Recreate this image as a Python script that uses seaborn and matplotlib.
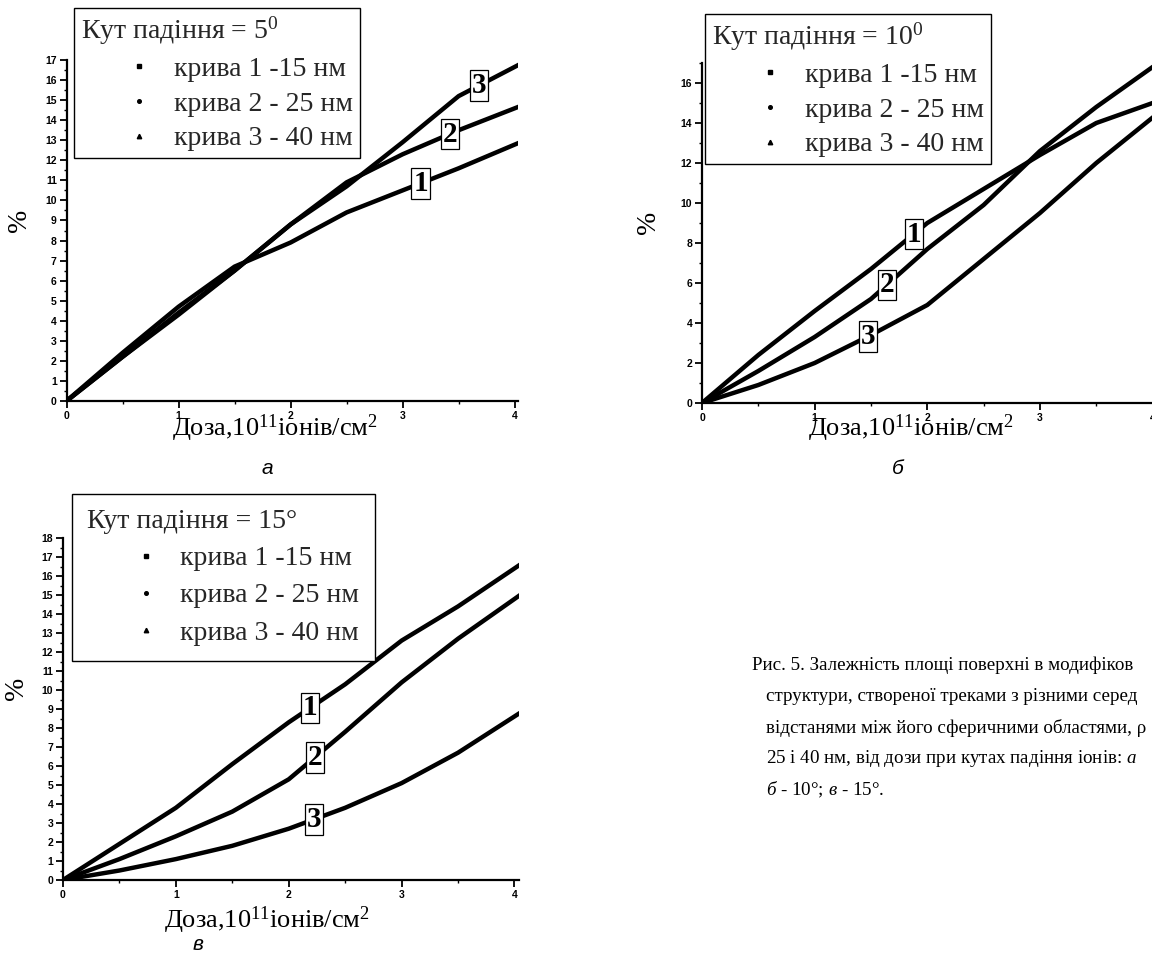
import numpy as np
import pandas as pd
import matplotlib
matplotlib.use("Agg")
import matplotlib.pyplot as plt
from matplotlib.lines import Line2D
from matplotlib.ticker import MultipleLocator
import seaborn as sns

sns.set_theme(style="ticks")
plt.rcParams["font.family"] = ["Liberation Serif", "DejaVu Serif"]
plt.rcParams["mathtext.fontset"] = "custom"
plt.rcParams["mathtext.rm"] = "Liberation Serif"
plt.rcParams["mathtext.it"] = "Liberation Serif:italic"

# dose, 10^11 ions/cm^2
dose = [0, 0.5, 1, 1.5, 2, 2.5, 3, 3.5, 4.05]

# panel а - angle 5
a_c1 = [0, 2.4, 4.7, 6.7, 7.9, 9.4, 10.5, 11.6, 12.9]
a_c2 = [0, 2.2, 4.4, 6.5, 8.8, 10.9, 12.3, 13.5, 14.7]
a_c3 = [0, 2.2, 4.3, 6.5, 8.8, 10.7, 12.9, 15.2, 16.8]

# panel б - angle 10
b_c1 = [0, 2.4, 4.6, 6.7, 9.0, 10.7, 12.4, 14.0, 15.1]
b_c2 = [0, 1.6, 3.3, 5.2, 7.7, 9.9, 12.6, 14.8, 17.0]
b_c3 = [0, 0.9, 2.0, 3.4, 4.9, 7.2, 9.5, 12.0, 14.5]

# panel в - angle 15
c_c1 = [0, 1.9, 3.8, 6.1, 8.3, 10.3, 12.6, 14.4, 16.6]
c_c2 = [0, 1.1, 2.3, 3.6, 5.3, 7.8, 10.4, 12.7, 15.0]
c_c3 = [0, 0.5, 1.1, 1.8, 2.7, 3.8, 5.1, 6.7, 8.8]

curve_ids = ["1", "2", "3"]
legend_labels = ["крива 1 -15 нм", "крива 2 - 25 нм", "крива 3 - 40 нм"]
titles = ["Кут падіння = 5$^{0}$", "Кут падіння = 10$^{0}$", "Кут падіння = 15°"]
panel_letters = ["а", "б", "в"]
x_ticks = [0, 1, 2, 3, 4]
y_ticks_a = list(range(0, 18))
y_ticks_b = list(range(0, 17, 2))
y_ticks_c = list(range(0, 19))
# x where the boxed curve numbers sit
label_x_a = [3.16, 3.42, 3.68]
label_x_b = [1.88, 1.64, 1.47]
label_x_c = [2.19, 2.23, 2.22]

caption = [
    "Рис. 5. Залежність площі поверхні в модифіков",
    "структури, створеної треками з різними серед",
    "відстанями між його сферичними областями, ρ",
    "25 і 40 нм, від дози при кутах падіння іонів: $\\mathit{а}$",
    "$\\mathit{б}$ - 10°; $\\mathit{в}$ - 15°.",
]

W, H = 1152, 958
fig = plt.figure(figsize=(W / 100, H / 100), dpi=100)


def px_axes(left, right, bottom, top):
    return fig.add_axes([left / W, 1 - bottom / H, (right - left) / W, (bottom - top) / H])


def draw_panel(ax, curves, label_x, ylim, xmax, y_ticks, ymin_step, title, leg_anchor, leg_pad,
               leg_space, xlab_pos, ylab_pos, letter, letter_pos):
    df = pd.concat([pd.DataFrame({"dose": dose, "pct": c, "curve": cid})
                    for c, cid in zip(curves, curve_ids)])
    sns.lineplot(data=df, x="dose", y="pct", hue="curve", palette=["black"] * 3,
                 linewidth=3.2, legend=False, ax=ax)
    ax.set_xlim(0, xmax)
    ax.set_ylim(0, ylim)
    ax.set_xticks(x_ticks, [str(t) for t in x_ticks], fontfamily="Liberation Sans",
                  fontweight="bold", fontsize=7.5)
    ax.set_yticks(y_ticks, [str(t) for t in y_ticks], fontfamily="Liberation Sans",
                  fontweight="bold", fontsize=7.5)
    ax.xaxis.set_minor_locator(MultipleLocator(0.5))
    ax.yaxis.set_minor_locator(MultipleLocator(ymin_step))
    sns.despine(ax=ax)
    for s in ["left", "bottom"]:
        ax.spines[s].set_color("black")
        ax.spines[s].set_linewidth(1.6)
    ax.tick_params(which="major", direction="out", length=5, width=1.3, color="black",
                   labelcolor="black", pad=2)
    ax.tick_params(which="minor", direction="out", length=2.5, width=1, color="black")

    ax.set_xlabel("Доза,10$^{11}$іонів/см$^{2}$", fontsize=19, color="black", va="center")
    ax.xaxis.set_label_coords(*xlab_pos)
    ax.set_ylabel("%", fontsize=20, color="black", va="center")
    ax.yaxis.set_label_coords(*ylab_pos)

    for c, cid, lx in zip(curves, curve_ids, label_x):
        ly = np.interp(lx, dose, c)
        ax.text(lx, ly, cid, fontsize=21, fontweight="bold", ha="center", va="center",
                color="black", zorder=4,
                bbox=dict(boxstyle="square,pad=0.06", fc="white", ec="black", lw=0.9))

    handles = [Line2D([], [], ls="none", marker=m, color="black", markersize=ms)
               for m, ms in zip(["s", "o", "^"], [2.6, 2.6, 3.2])]
    leg = ax.legend(handles, legend_labels, title=title, loc="upper left",
                    bbox_to_anchor=leg_anchor, bbox_transform=fig.transFigure,
                    frameon=True, fancybox=False, framealpha=1, edgecolor="black",
                    prop={"family": "Liberation Serif", "size": 20},
                    title_fontproperties={"family": "Liberation Serif", "size": 20},
                    alignment="left", handlelength=4.2, handletextpad=-0.85,
                    labelspacing=leg_space, borderpad=leg_pad, borderaxespad=0)
    leg.get_frame().set_linewidth(1.0)
    leg.set_zorder(6)

    fig.text(letter_pos[0] / W, 1 - letter_pos[1] / H, letter, fontsize=15,
             fontfamily="Liberation Sans", fontstyle="italic", ha="center", va="center",
             color="black")


ax_a = px_axes(66.5, 518, 401, 60)
draw_panel(ax_a, [a_c1, a_c2, a_c3], label_x_a, 17, 4.03, y_ticks_a, 0.5, titles[0],
           (74 / W, 1 - 8 / H), 0.25, 0.33, (0.462, -0.079), (-0.103, 0.53),
           panel_letters[0], (267, 468))

ax_b = px_axes(702, 1156, 403, 63)
draw_panel(ax_b, [b_c1, b_c2, b_c3], label_x_b, 17, 4.03, y_ticks_b, 1, titles[1],
           (705 / W, 1 - 14 / H), 0.25, 0.33, (0.46, -0.074), (-0.117, 0.53),
           panel_letters[1], (898, 468))

ax_c = px_axes(63, 519, 880, 538)
draw_panel(ax_c, [c_c1, c_c2, c_c3], label_x_c, 18, 4.04, y_ticks_c, 0.5, titles[2],
           (72 / W, 1 - 494 / H), 0.55, 0.42, (0.447, -0.117), (-0.103, 0.56),
           panel_letters[2], (198, 945))

for i, line in enumerate(caption):
    x0 = 752 if i == 0 else 766
    fig.text(x0 / W, 1 - (665 + 31.3 * i) / H, line, fontsize=13.7, ha="left", va="center",
             color="black")

fig.savefig("out.png", dpi=100, facecolor="white")
